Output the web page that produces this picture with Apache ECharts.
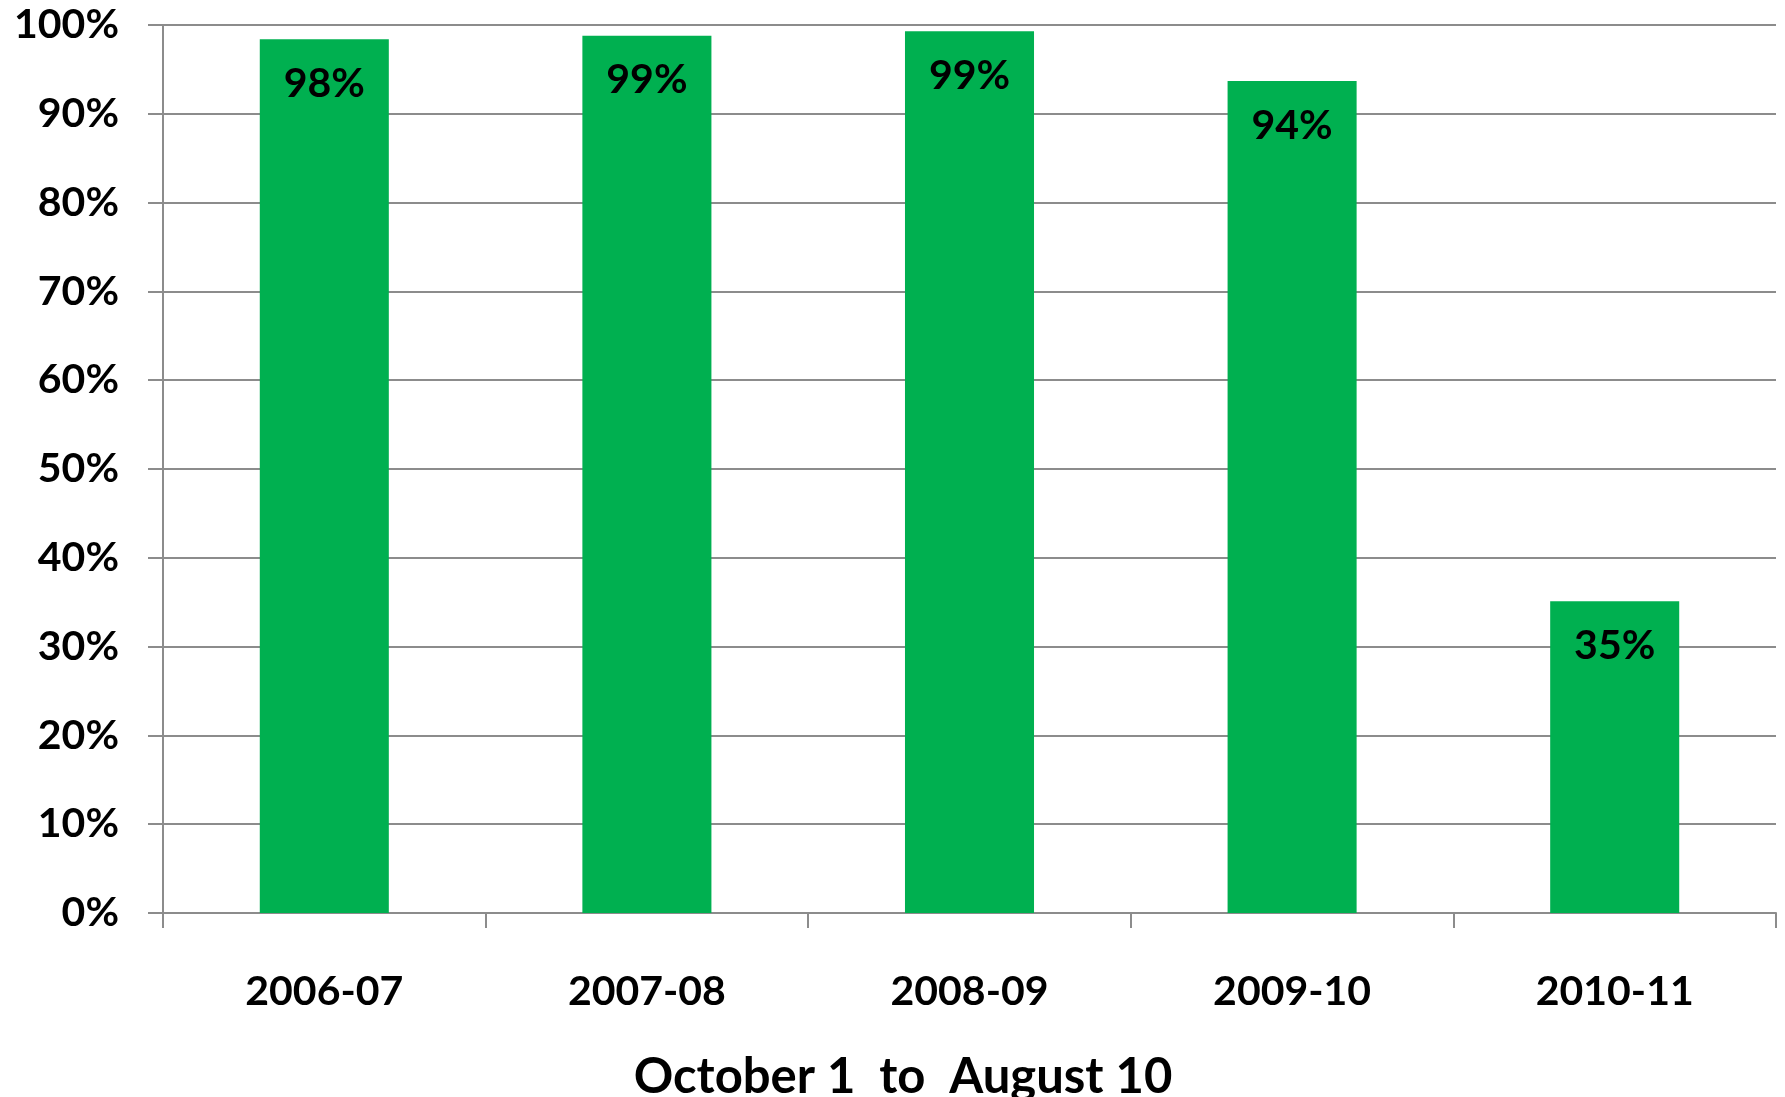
<!DOCTYPE html>
<html>
<head>
<meta charset="utf-8">
<script src="https://cdn.jsdelivr.net/npm/echarts@6/dist/echarts.min.js"></script>
<style>
html,body{margin:0;padding:0;background:#fff;}
#chart{width:1785px;height:1097px;}
</style>
</head>
<body>
<div id="chart"></div>
<script>
const categories = ['2006-07', '2007-08', '2008-09', '2009-10', '2010-11'];
const values = [98.4, 98.8, 99.3, 93.7, 35.1];
const axisTitle = 'October 1  to  August 10';

const FONT = 'Lato';
const chart = echarts.init(document.getElementById('chart'));
chart.setOption({
  animation: false,
  backgroundColor: '#ffffff',
  title: {
    text: axisTitle,
    left: 898,
    textAlign: 'center',
    top: 1048,
    textStyle: { fontFamily: FONT, fontWeight: 'bold', fontSize: 49, color: '#000' }
  },
  grid: { left: 163, right: 9, top: 25, bottom: 184, containLabel: false },
  xAxis: {
    type: 'category',
    data: categories,
    boundaryGap: true,
    axisLine: { lineStyle: { color: '#8c8c8c', width: 2 } },
    axisTick: { show: true, length: 15, lineStyle: { color: '#8c8c8c', width: 2 } },
    axisLabel: { margin: 58, fontFamily: FONT, fontWeight: 'bold', fontSize: 41, color: '#000' }
  },
  yAxis: {
    type: 'value',
    min: 0, max: 100, interval: 10,
    axisLine: { show: true, lineStyle: { color: '#8c8c8c', width: 2 } },
    axisTick: { show: true, length: 15, lineStyle: { color: '#8c8c8c', width: 2 } },
    splitLine: { show: true, lineStyle: { color: '#8c8c8c', width: 2 } },
    axisLabel: { formatter: '{value}%', margin: 44, fontFamily: FONT, fontWeight: 'bold', fontSize: 41, color: '#000' }
  },
  series: [{
    type: 'bar',
    data: values,
    barWidth: '40%',
    itemStyle: { color: '#00B050' },
    label: {
      show: true,
      position: 'insideTop',
      distance: 24,
      formatter: p => Math.round(p.value) + '%',
      fontFamily: FONT, fontWeight: 'bold', fontSize: 41, color: '#000'
    }
  }]
});
</script>
</body>
</html>
